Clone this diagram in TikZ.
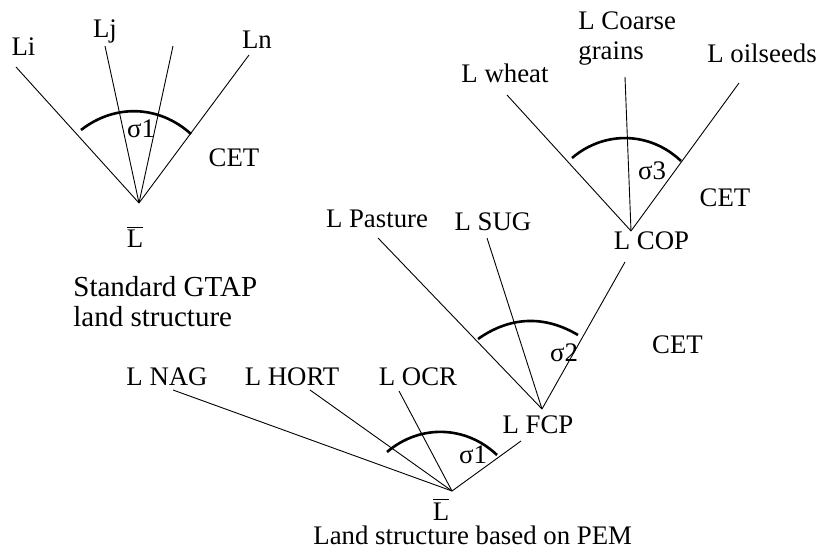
\documentclass[tikz,border=0pt]{standalone}
\usepackage{fontspec}
\setmainfont{Liberation Serif}
\tikzset{
  lbl/.style={inner sep=0pt, anchor=base},
  branch/.style={line width=0.45pt},
  elast/.style={line width=1.3pt},
}

\begin{document}
\begin{tikzpicture}[x=0.5pt, y=-0.5pt, font=\fontsize{13.4}{15}\selectfont]
  \useasboundingbox (0,0) rectangle (818,550);

  % standard GTAP land nest
  \coordinate (gA) at (139,203);
  \coordinate (gi) at (16,67);
  \coordinate (gj) at (105,46);
  \coordinate (gk) at (173,46);
  \coordinate (gn) at (249,55);
  \foreach \e in {gi,gj,gk,gn} \draw[branch] (gA) -- (\e);
  \coordinate (gs1) at (81,130);
  \coordinate (gs2) at (191,134);
  \draw[elast] (gs1) to[bend left=40] (gs2);
  \node[lbl] (li) at (23.5,56) {Li};
  \node[lbl] (lj) at (105,38) {Lj};
  \node[lbl] (ln) at (257,49) {Ln};
  \node[lbl] (sigg) at (141,138) {σ1};
  \node[lbl] (cetg) at (234,167) {CET};
  \node[lbl] (lbarg) at (135,248) {$\overline{\mbox{L}}$};
  % last line of a two-line label sits on the given base
  \node[lbl, anchor=base west, align=left, font=\fontsize{14.5}{15}\selectfont] (gtap) at (73,327) {Standard GTAP\\land structure};

  % COP nest
  \coordinate (cA) at (631,231);
  \coordinate (cw) at (507,95);
  \coordinate (cc) at (625,77);
  \coordinate (co) at (739,83);
  \foreach \e in {cw,cc,co} \draw[branch] (cA) -- (\e);
  \coordinate (cs1) at (572,158);
  \coordinate (cs2) at (681,161);
  \draw[elast] (cs1) to[bend left=42] (cs2);
  \node[lbl, anchor=base west, align=left] (coarse) at (578,60) {L Coarse\\grains};
  \node[lbl] (wheat) at (505,83) {L wheat};
  \node[lbl] (oil) at (762,63) {L oilseeds};
  \node[lbl] (sigc) at (652,180) {σ3};
  \node[lbl] (cetc) at (725,207) {CET};
  \node[lbl] (cop) at (651.5,250) {L COP};

  % FCP nest
  \coordinate (fA) at (542,409);
  \coordinate (fp) at (378,238);
  \coordinate (fs) at (487,238);
  \coordinate (fc) at (625,262);
  \foreach \e in {fp,fs,fc} \draw[branch] (fA) -- (\e);
  \coordinate (fs1) at (478,339);
  \coordinate (fs2) at (578,335);
  \draw[elast] (fs1) to[bend left=33] (fs2);
  \node[lbl] (pasture) at (377,228) {L Pasture};
  \node[lbl] (sug) at (493,231) {L SUG};
  \node[lbl] (sigf) at (564,361) {σ2};
  \node[lbl] (cetf) at (677.5,353) {CET};
  \node[lbl] (fcp) at (538,433) {L FCP};

  % PEM land nest
  \coordinate (bA) at (452,491);
  \coordinate (bn) at (173,390);
  \coordinate (bh) at (310,390);
  \coordinate (bo) at (399,391);
  \coordinate (bf) at (521,441);
  \foreach \e in {bn,bh,bo,bf} \draw[branch] (bA) -- (\e);
  \coordinate (bs1) at (387,452);
  \coordinate (bs2) at (497,455);
  \draw[elast] (bs1) to[bend left=42] (bs2);
  \node[lbl] (nag) at (167,385) {L NAG};
  \node[lbl] (hort) at (292,385) {L HORT};
  \node[lbl] (ocr) at (418,385) {L OCR};
  \node[lbl] (sigb) at (473,463) {σ1};
  \node[lbl] (lbarb) at (441,520) {$\overline{\mbox{L}}$};
  \node[lbl, anchor=base west] (pem) at (313,544) {Land structure based on PEM};
\end{tikzpicture}
\end{document}
